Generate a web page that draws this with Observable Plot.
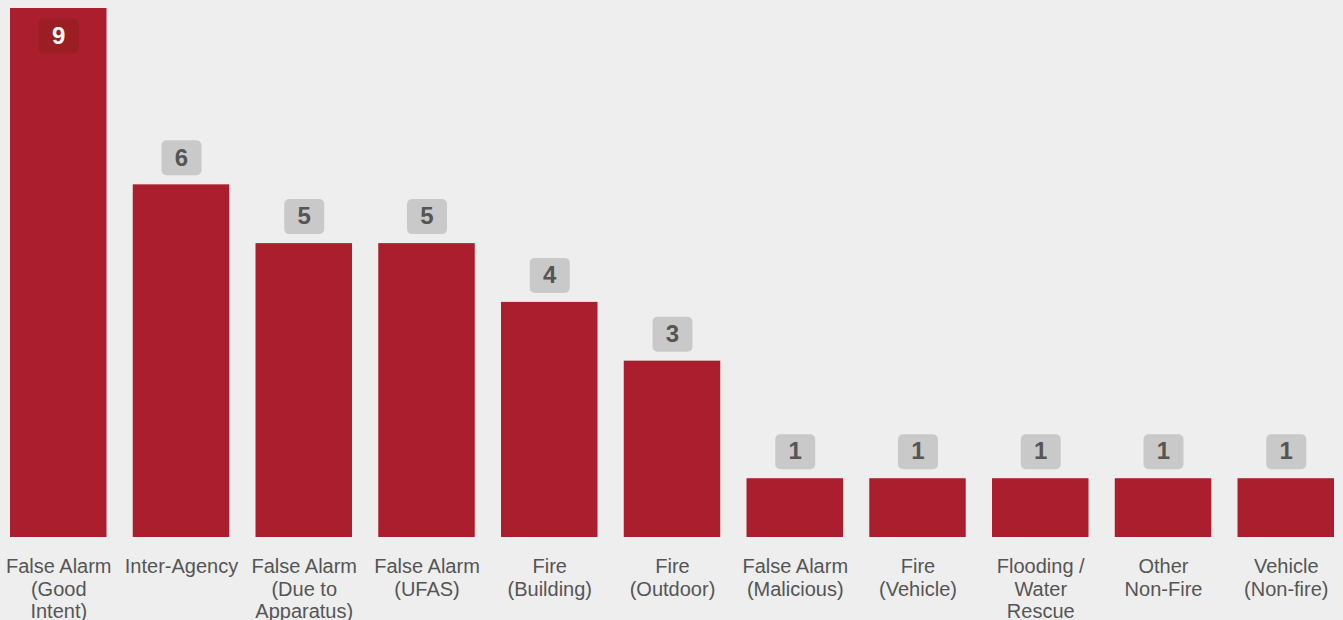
<!DOCTYPE html>
<html>
<head>
<meta charset="utf-8">
<script src="https://cdn.jsdelivr.net/npm/d3@7"></script>
<script src="https://cdn.jsdelivr.net/npm/@observablehq/plot@0.6"></script>
<style>
  html, body { margin: 0; padding: 0; background: #eeeeee; }
  #chart svg { display: block; }
</style>
</head>
<body>
<div id="chart"></div>
<script>
const categories = [
  "False Alarm\n(Good\nIntent)",
  "Inter-Agency",
  "False Alarm\n(Due to\nApparatus)",
  "False Alarm\n(UFAS)",
  "Fire\n(Building)",
  "Fire\n(Outdoor)",
  "False Alarm\n(Malicious)",
  "Fire\n(Vehicle)",
  "Flooding /\nWater\nRescue",
  "Other\nNon-Fire",
  "Vehicle\n(Non-fire)"
];
const values = [9, 6, 5, 5, 4, 3, 1, 1, 1, 1, 1];
const maxValue = 9;

const data = categories.map((c, i) => ({category: c, value: values[i]}));
const topItem = data.filter(d => d.value === maxValue);
const otherItems = data.filter(d => d.value !== maxValue);

const roundBox = {
  draw(ctx) {
    const w = 40, h = 35, r = 5;
    ctx.moveTo(-w / 2 + r, -h / 2);
    ctx.arcTo(w / 2, -h / 2, w / 2, h / 2, r);
    ctx.arcTo(w / 2, h / 2, -w / 2, h / 2, r);
    ctx.arcTo(-w / 2, h / 2, -w / 2, -h / 2, r);
    ctx.arcTo(-w / 2, -h / 2, w / 2, -h / 2, r);
    ctx.closePath();
  }
};

const chart = Plot.plot({
  width: 1343,
  height: 620,
  marginLeft: 10,
  marginRight: 9,
  marginTop: 8,
  marginBottom: 83,
  style: {background: "#eeeeee", fontFamily: "Liberation Sans, Arial, sans-serif"},
  x: {domain: categories, paddingInner: 0.214, paddingOuter: 0, round: false, label: null},
  y: {domain: [0, maxValue], axis: null},
  marks: [
    Plot.barY(data, {x: "category", y: "value", fill: "#ab1e2d"}),
    Plot.dot(otherItems, {x: "category", y: "value", symbol: roundBox, fill: "#c9c9c9", stroke: "none", dy: -27}),
    Plot.text(otherItems, {x: "category", y: "value", text: d => String(d.value), dy: -27, fill: "#555555", fontSize: 24, fontWeight: "bold", lineAnchor: "middle"}),
    Plot.dot(topItem, {x: "category", y: "value", symbol: roundBox, fill: "#9a1e24", stroke: "none", dy: 27.5}),
    Plot.text(topItem, {x: "category", y: "value", text: d => String(d.value), dy: 27.5, fill: "#ffffff", fontSize: 24, fontWeight: "bold", lineAnchor: "middle"}),
    Plot.axisX({tickSize: 0, tickPadding: 20, fontSize: 20, lineHeight: 1.125, fill: "#555555", label: null, textStroke: "none"})
  ]
});
document.getElementById("chart").appendChild(chart);
</script>
</body>
</html>
